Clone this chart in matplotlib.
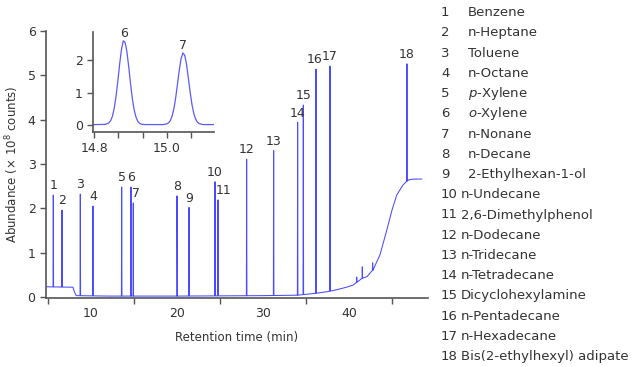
import numpy as np
import matplotlib
matplotlib.use("Agg")
from matplotlib import pyplot as plt

# peak table (retention time in min, height in 1e8 counts)
peak_ids = list(range(1, 19))
peak_names = ["Benzene", "n-Heptane", "Toluene", "n-Octane", r"$\it{p}$-Xylene",
              r"$\it{o}$-Xylene", "n-Nonane", "n-Decane", "2-Ethylhexan-1-ol",
              "n-Undecane", "2,6-Dimethylphenol", "n-Dodecane", "n-Tridecane",
              "n-Tetradecane", "Dicyclohexylamine", "n-Pentadecane",
              "n-Hexadecane", "Bis(2-ethylhexyl) adipate"]
peak_rt = [5.62, 6.63, 8.76, 10.23, 13.57, 14.65, 14.92, 20.0, 21.4, 24.42,
           24.77, 28.1, 31.24, 34.03, 34.69, 36.16, 37.79, 46.74]
peak_h = [2.30, 1.96, 2.32, 2.05, 2.48, 2.48, 2.12, 2.28, 2.02, 2.60,
          2.19, 3.11, 3.30, 3.94, 4.33, 5.14, 5.21, 5.26]

# small unlabelled spikes on the rising baseline
small_rt = [40.9, 41.55, 42.75]
small_h = [0.45, 0.68, 0.77]

# baseline (column bleed)
base_t = [4.77, 7.9, 8.1, 8.3, 12, 20, 30, 34, 36, 37.5, 38.5, 39.7, 40.5,
          41.5, 42.1, 42.8, 43.6, 44.4, 45.0, 45.55, 46.3, 46.9, 47.5, 48.45]
base_y = [0.23, 0.22, 0.10, 0.03, 0.02, 0.02, 0.03, 0.04, 0.08, 0.12, 0.16,
          0.22, 0.27, 0.42, 0.46, 0.61, 0.95, 1.51, 1.96, 2.30, 2.53, 2.64,
          2.66, 2.66]

# zoomed trace for peaks 6 and 7
ins_t = [14.797, 14.83, 14.84, 14.845, 14.85, 14.855, 14.86, 14.865, 14.87,
         14.875, 14.88, 14.885, 14.89, 14.895, 14.90, 14.905, 14.91, 14.915,
         14.92, 14.925, 14.93, 14.94, 14.99, 15.0, 15.005, 15.01, 15.015,
         15.02, 15.025, 15.03, 15.035, 15.04, 15.045, 15.05, 15.055, 15.06,
         15.065, 15.07, 15.075, 15.08, 15.085, 15.09, 15.10, 15.131]
ins_y = [0.02, 0.026, 0.07, 0.14, 0.28, 0.53, 0.90, 1.37, 1.89, 2.33, 2.59,
         2.54, 2.25, 1.79, 1.27, 0.81, 0.47, 0.25, 0.12, 0.06, 0.03, 0.02,
         0.02, 0.04, 0.07, 0.14, 0.28, 0.51, 0.85, 1.27, 1.70, 2.05, 2.22,
         2.14, 1.86, 1.44, 1.01, 0.63, 0.36, 0.19, 0.095, 0.05, 0.02, 0.02]

line_col = "#4a4aff"
txt_col = "#333333"
axis_col = "#555555"
plt.rcParams["font.family"] = "DejaVu Sans"
plt.rcParams["font.size"] = 8.5

# build main trace: baseline with narrow spikes
pts = list(zip(base_t, base_y))
for t, h in zip(peak_rt + small_rt, peak_h + small_h):
    b = float(np.interp(t, base_t, base_y))
    pts += [(t - 0.03, b), (t, h), (t + 0.03, b)]
pts.sort()
tr_t = [p[0] for p in pts]
tr_y = [p[1] for p in pts]

fig = plt.figure(figsize=(6.37, 3.67), dpi=100)
ax = fig.add_axes([0.0722, 0.1872, 0.5992, 0.7283])
ax.plot(tr_t, tr_y, color=line_col, lw=0.75)
ax.set_xlim(4.77, 49.15)
ax.set_ylim(-0.03, 6)
for s in ["top", "right"]:
    ax.spines[s].set_visible(False)
for s in ["left", "bottom"]:
    ax.spines[s].set_color(axis_col)
    ax.spines[s].set_linewidth(1.2)
ax.set_yticks(range(7))
ax.set_xticks([10, 20, 30, 40])
ax.set_xticks([5, 15, 25, 35, 45], minor=True)
ax.tick_params(axis="x", which="major", length=0, pad=6, colors=txt_col, labelsize=9)
ax.tick_params(axis="x", which="minor", length=4, width=1, color=axis_col)
ax.tick_params(axis="y", length=4, width=1, color=axis_col, labelcolor=txt_col, labelsize=9)
ax.set_xlabel("Retention time (min)", color=txt_col, labelpad=8)
ax.set_ylabel("Abundance (× 10$^8$ counts)", color=txt_col, labelpad=5)

nudge = {7: 3, 11: 6, 16: -1}
for i, t, h in zip(peak_ids, peak_rt, peak_h):
    ax.annotate(str(i), (t, h), xytext=(nudge.get(i, 0) * 0.72, 2),
                textcoords="offset points", ha="center", va="bottom",
                color=txt_col, fontsize=9)

# inset
ins = fig.add_axes([0.1465, 0.641, 0.1895, 0.271])
ins.plot(ins_t, ins_y, color="#5a5aff", lw=0.9)
ins.set_xlim(14.797, 15.131)
ins.set_ylim(-0.2, 2.85)
for s in ["top", "right"]:
    ins.spines[s].set_visible(False)
for s in ["left", "bottom"]:
    ins.spines[s].set_color(axis_col)
    ins.spines[s].set_linewidth(1.2)
ins.set_yticks([0, 1, 2])
xt = [14.8 + k * 0.2 / 3 for k in range(5)]
ins.set_xticks(xt)
ins.set_xticklabels(["14.8", "", "", "15.0", ""])
ins.tick_params(length=4, width=1, color=axis_col, labelcolor=txt_col, labelsize=9)
ins.text(14.882, 2.62, "6", ha="center", va="bottom", color=txt_col, fontsize=9, clip_on=False)
ins.text(15.046, 2.26, "7", ha="center", va="bottom", color=txt_col, fontsize=9, clip_on=False)

# compound list
for k, (i, name) in enumerate(zip(peak_ids, peak_names)):
    y = 1 - (12.7 + 20.23 * k) / 367
    fig.text(441 / 637, y, str(i), ha="left", va="center", color=txt_col, fontsize=9.5)
    xn = 468 if i < 10 else 461
    fig.text(xn / 637, y, name, ha="left", va="center", color=txt_col, fontsize=9.5)

fig.savefig("out.png", dpi=100)
